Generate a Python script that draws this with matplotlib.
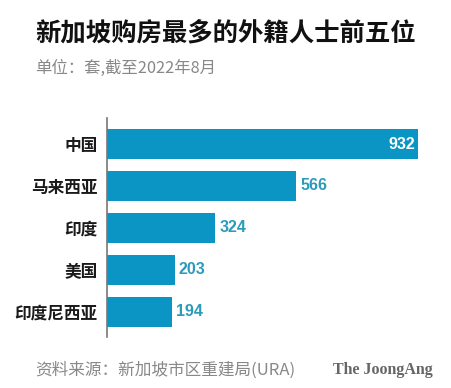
import matplotlib.pyplot as plt

plt.rcParams['font.family'] = ['Noto Sans CJK SC', 'DejaVu Sans']

# data
countries = ["中国", "马来西亚", "印度", "美国", "印度尼西亚"]
units = [932, 566, 324, 203, 194]

title = "新加坡购房最多的外籍人士前五位"
subtitle = "单位：套,截至2022年8月"
source = "资料来源：新加坡市区重建局(URA)"
brand = "The JoongAng"

bar_color = "#0b95c4"
label_color = "#2b9bbb"

fig = plt.figure(figsize=(4.51, 3.88), dpi=100)
ax = fig.add_axes([107 / 451, 1 - 337 / 388, 333 / 451, (337 - 118) / 388])

pos = list(range(len(countries)))
ax.barh(pos, units, height=0.71, color=bar_color)
ax.set_ylim(4.6, -0.62)
ax.set_xlim(0, 997)

ax.set_yticks(pos)
ax.set_yticklabels(countries, fontsize=12, fontweight='bold', color='#1a1a1a')
ax.tick_params(axis='y', length=0, pad=7)
ax.set_xticks([])

for s in ['top', 'right', 'bottom']:
    ax.spines[s].set_visible(False)
ax.spines['left'].set_color('#777777')
ax.spines['left'].set_linewidth(1.2)

# value labels: inside for the longest bar, outside otherwise
for p, v in zip(pos, units):
    if v == max(units):
        ax.text(v - 10, p, str(v), ha='right', va='center', color='white',
                fontsize=11.5, fontweight='bold', family=['Liberation Sans', 'DejaVu Sans'])
    else:
        ax.text(v + 12, p, str(v), ha='left', va='center', color=label_color,
                fontsize=11.5, fontweight='bold', family=['Liberation Sans', 'DejaVu Sans'])

fig.text(35 / 451, 1 - 33 / 388, title, fontsize=18.3, fontweight='bold',
         color='#111111', va='center', ha='left')
fig.text(35 / 451, 1 - 68 / 388, subtitle, fontsize=11.8, color='#888888',
         va='center', ha='left')
fig.text(35 / 451, 1 - 370 / 388, source, fontsize=12, color='#888888',
         va='center', ha='left')
fig.text(433 / 451, 1 - 370 / 388, brand, fontsize=11.5, fontweight='bold',
         color='#666666', va='center', ha='right',
         family=['Liberation Serif', 'DejaVu Serif'])

fig.savefig("out.png", dpi=100)
